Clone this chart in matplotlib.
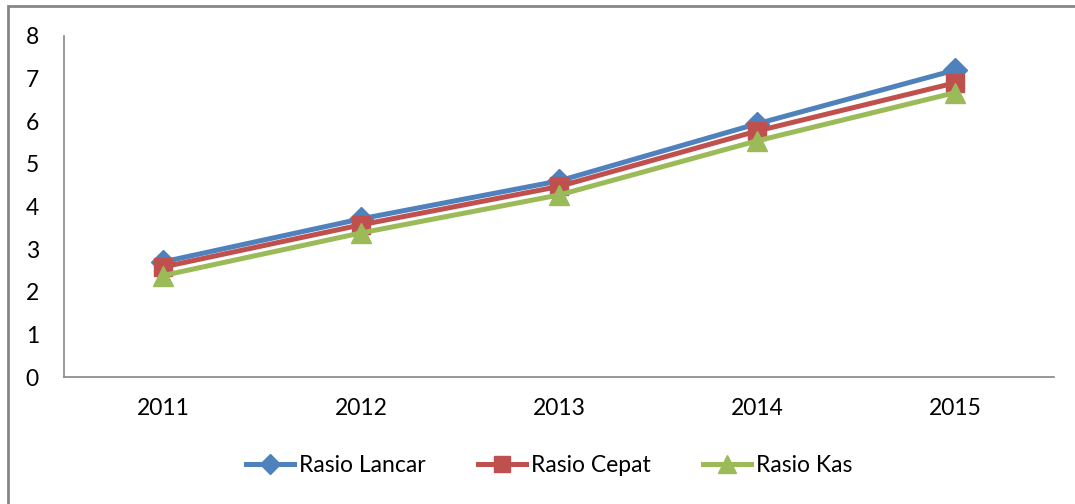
import matplotlib
matplotlib.use("Agg")
import matplotlib.pyplot as plt
from matplotlib.patches import Rectangle

years = ["2011", "2012", "2013", "2014", "2015"]
rasio_lancar = [2.70, 3.71, 4.60, 5.94, 7.20]
rasio_cepat = [2.58, 3.57, 4.47, 5.77, 6.90]
rasio_kas = [2.38, 3.38, 4.27, 5.54, 6.67]
y_ticks = [0, 1, 2, 3, 4, 5, 6, 7, 8]

plt.rcParams['font.family'] = ['Lato', 'DejaVu Sans']

fig = plt.figure(figsize=(10.75, 5.04), dpi=100)
ax = fig.add_axes([64/1075, (504-377)/504, (1054-64)/1075, (377-36)/504])

x = list(range(len(years)))
ax.plot(x, rasio_lancar, color='#4F81BD', lw=3.6, marker='D', ms=12, label='Rasio Lancar', zorder=3)
ax.plot(x, rasio_cepat, color='#C0504D', lw=3.6, marker='s', ms=13.5, label='Rasio Cepat', zorder=4)
ax.plot(x, rasio_kas, color='#9BBB59', lw=3.6, marker='^', ms=15, label='Rasio Kas', zorder=5)

ax.set_xlim(-0.5, 4.5)
ax.set_ylim(0, 8)
ax.set_xticks(x)
ax.set_xticklabels(years)
ax.set_yticks(y_ticks)
ax.tick_params(axis='both', length=0, labelsize=16.5, colors='black')
ax.tick_params(axis='x', pad=15)
ax.tick_params(axis='y', pad=18)
for s in ['top', 'right']:
    ax.spines[s].set_visible(False)
for s in ['left', 'bottom']:
    ax.spines[s].set_color('#868686')
    ax.spines[s].set_linewidth(1.2)

leg = fig.legend(loc='center', bbox_to_anchor=(549/1075, (504-466)/504), ncol=3, frameon=False,
                 fontsize=16.5, handlelength=2.1, columnspacing=2.3, handletextpad=0.2,
                 markerscale=0.85)

fig.patches.append(Rectangle((8/1075, -0.1), 1.2, (504-6)/504 + 0.1, transform=fig.transFigure,
                             fill=False, edgecolor='#868686', linewidth=2))

fig.savefig('out.png', dpi=100)
